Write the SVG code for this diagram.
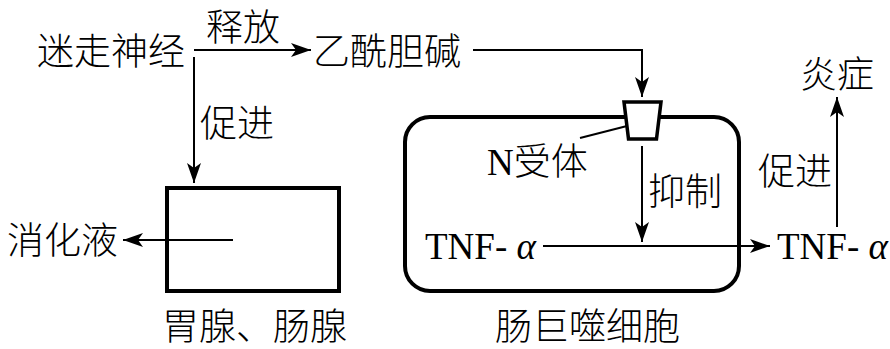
<svg xmlns="http://www.w3.org/2000/svg" width="890" height="349" viewBox="0 0 890 349">
<defs>
<marker id="arr" markerUnits="userSpaceOnUse" markerWidth="21" markerHeight="14" refX="20" refY="7" orient="auto" overflow="visible">
<path d="M0,0 L20,7 L0,14 L5,7 z" fill="#000"/>
</marker>
<style>
.t{font-family:"Liberation Serif","Noto Sans CJK SC",serif;font-size:37px;font-weight:300;fill:#000}
.s{font-family:"Liberation Serif","Noto Sans CJK SC",serif;font-size:37px;fill:#000}
.ln{stroke:#000;stroke-width:2;fill:none}
.box{stroke:#000;stroke-width:4;fill:#fff}
</style>
</defs>
<rect width="890" height="349" fill="#fff"/>
<g id="glands">
<rect class="box" x="167" y="188" width="172" height="103"/>
<text class="t" x="162" y="340">胃腺、肠腺</text>
</g>
<g id="macrophage">
<rect class="box" x="405" y="117" width="334" height="174" rx="25" ry="25"/>
<text class="t" x="495" y="340">肠巨噬细胞</text>
</g>
<g id="receptor">
<path d="M624,102 L661,102 L656.5,139 L628.5,139 z" stroke="#000" stroke-width="3.5" fill="#fff"/>
<text x="487" y="175"><tspan class="s">N</tspan><tspan class="t">受体</tspan></text>
</g>
<g id="vagus"><text class="t" x="37" y="65">迷走神经</text></g>
<g id="ach"><text class="t" x="313" y="65">乙酰胆碱</text></g>
<g id="juice"><text class="t" x="7" y="254">消化液</text></g>
<g id="tnf1"><text class="s" x="425" y="259">TNF- <tspan font-style="italic">α</tspan></text></g>
<g id="tnf2"><text class="s" x="777" y="259">TNF- <tspan font-style="italic">α</tspan></text></g>
<g id="inflam"><text class="t" x="800" y="88">炎症</text></g>
<g id="connectors">
<line class="ln" x1="194" y1="50" x2="311" y2="50" marker-end="url(#arr)"/>
<text class="t" x="206" y="41">释放</text>
<line class="ln" x1="194" y1="57" x2="194" y2="183" marker-end="url(#arr)"/>
<text class="t" x="200" y="137">促进</text>
<line class="ln" x1="233" y1="240" x2="123" y2="240" marker-end="url(#arr)"/>
<polyline class="ln" points="473,50 642,50 642,97" marker-end="url(#arr)"/>
<line class="ln" x1="580" y1="138" x2="627" y2="126"/>
<line class="ln" x1="642" y1="146" x2="642" y2="242" marker-end="url(#arr)"/>
<text class="t" x="648" y="205">抑制</text>
<line class="ln" x1="543" y1="246" x2="770" y2="246" marker-end="url(#arr)"/>
<line class="ln" x1="837" y1="227" x2="837" y2="97" marker-end="url(#arr)"/>
<text class="t" x="758" y="185">促进</text>
</g>
</svg>
